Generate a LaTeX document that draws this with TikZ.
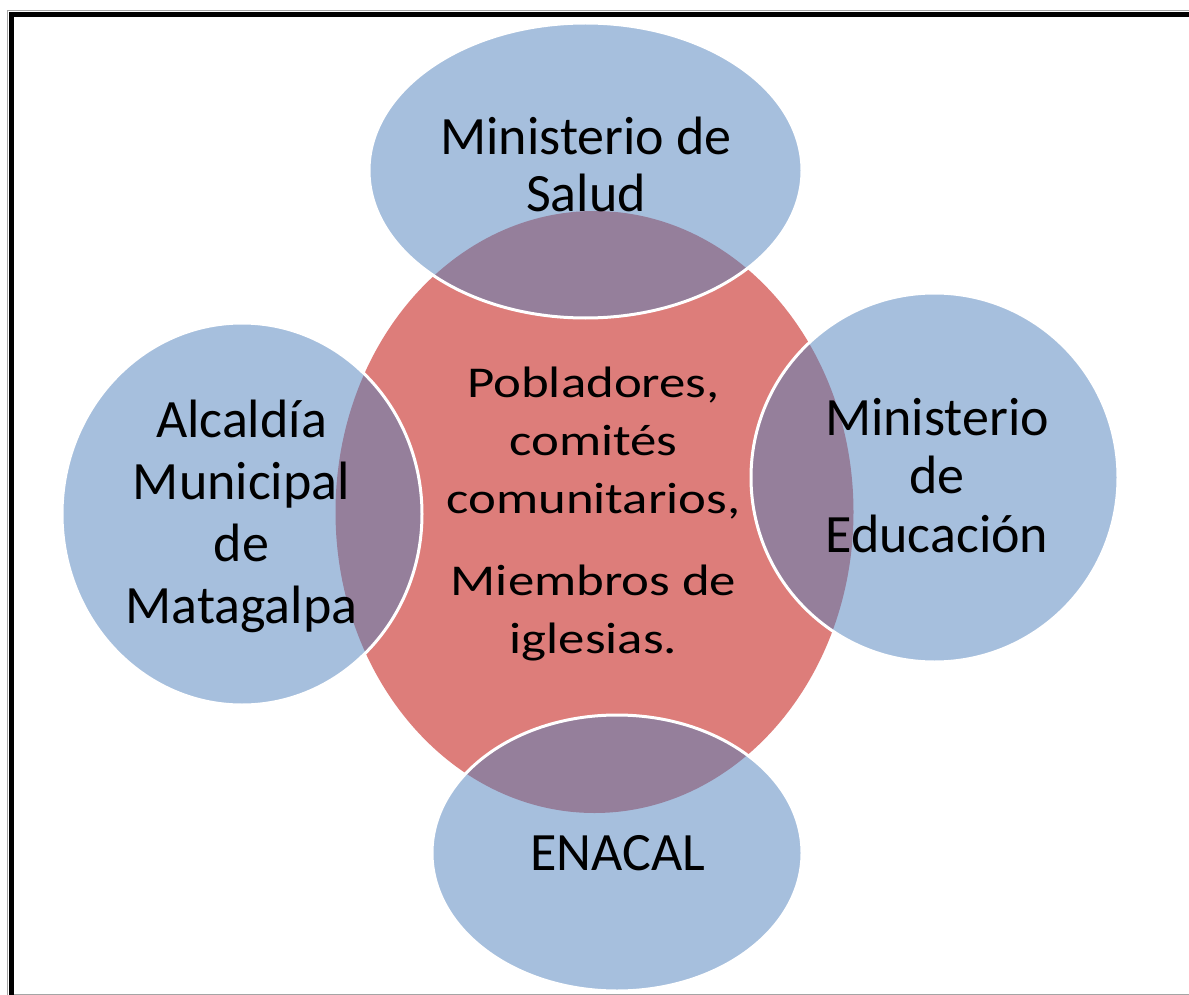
\documentclass[tikz,border=0pt]{standalone}
\usepackage{fontspec}
\setmainfont{Carlito}
\usetikzlibrary{shapes.geometric}
\definecolor{redfill}{RGB}{221,125,122}
\definecolor{bluefill}{RGB}{79,129,189}
\definecolor{framegray}{RGB}{165,165,165}
\begin{document}
\begin{tikzpicture}[x=1pt,y=-1pt,
  hub/.style={ellipse, fill=redfill, inner sep=0pt},
  sat/.style={ellipse, fill=bluefill, fill opacity=0.5, draw=white, draw opacity=1, line width=3pt, inner sep=0pt},
  lbl/.style={align=center, font=\fontsize{54}{57}\selectfont, anchor=base, inner sep=0pt, text=black}]
\useasboundingbox (0,0) rectangle (1189,995);
\fill[white] (0,0) rectangle (1189,995);
% page frame
\draw[framegray, line width=1pt] (7,995) -- (7,10.5) -- (1189,10.5);
\draw[black, line width=5pt] (11.5,995) -- (11.5,14.8) -- (1189,14.8);
\draw[framegray, line width=1pt] (14,994) -- (1189,994);
% shapes
\node[hub, minimum width=518pt, minimum height=602pt] (hub) at (594.5,512) {};
\node[sat, minimum width=433pt, minimum height=295pt] (salud) at (585.5,170.5) {};
\node[sat, minimum width=360pt, minimum height=382pt] (alcaldia) at (242,514) {};
\node[sat, minimum width=367pt, minimum height=369pt] (educ) at (934.5,477.5) {};
\node[sat, minimum width=370pt, minimum height=276pt] (enacal) at (617,853) {};
% labels (anchor = baseline of the last line)
\node[lbl] (tsalud) at (586,212) {Ministerio de\\Salud};
\node[lbl, font=\fontsize{54}{62}\selectfont] (talc) at (241.5,623) {Alcaldía\\Municipal\\de\\Matagalpa};
\node[lbl, font=\fontsize{54}{58.5}\selectfont] (tedu) at (937,552) {Ministerio\\de\\Educación};
\node[lbl] (tenacal) at (617.5,870) {ENACAL};
\begin{scope}[shift={(593.5,653)}, xscale=1.2]
\node[lbl, transform shape, font=\fontsize{44}{58}\selectfont] (thub) at (0,0) {Pobladores,\\comités\\comunitarios,\\[24pt]Miembros de\\iglesias.};
\end{scope}
\end{tikzpicture}
\end{document}
